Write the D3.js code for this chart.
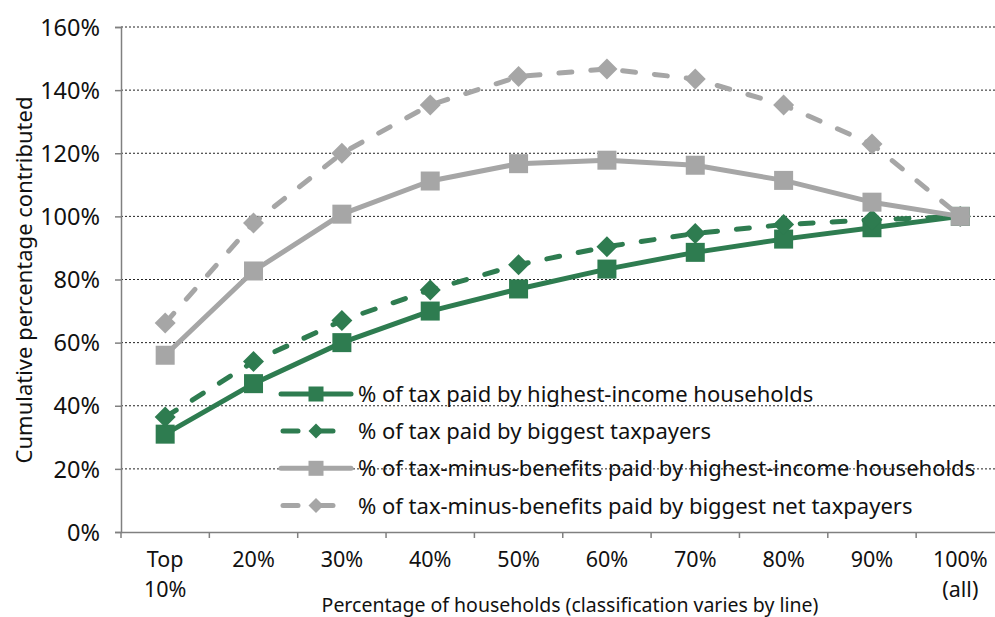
<!DOCTYPE html>
<html><head><meta charset="utf-8">
<script src="https://cdn.jsdelivr.net/npm/d3@7"></script>
<style>
body{margin:0;background:#fff;}
svg text{font-family:"Noto Sans",sans-serif;fill:#111;}
</style></head>
<body><svg id="c" width="995" height="617"></svg>
<script>
const categories = ["Top\n10%","20%","30%","40%","50%","60%","70%","80%","90%","100%\n(all)"];
const taxHighestIncome = [31,47,60,70,77,83.3,88.6,92.8,96.4,100];
const taxBiggestTaxpayers = [36.4,54,67,76.7,84.7,90.4,94.6,97.4,98.9,100];
const netHighestIncome = [56,82.7,100.7,111.2,116.7,117.8,116.2,111.4,104.5,100];
const netBiggestTaxpayers = [66.2,97.9,120,135.3,144.3,146.7,143.5,135.3,122.9,100];
const yTicks = [0,20,40,60,80,100,120,140,160];
const seriesNames = ["% of tax paid by highest-income households","% of tax paid by biggest taxpayers","% of tax-minus-benefits paid by highest-income households","% of tax-minus-benefits paid by biggest net taxpayers"];

const green = "#2e7c50", gray = "#a6a6a6";
const series = [
  {name:seriesNames[0], values:taxHighestIncome, color:green, dash:null, marker:"square"},
  {name:seriesNames[1], values:taxBiggestTaxpayers, color:green, dash:"13,19", marker:"diamond"},
  {name:seriesNames[2], values:netHighestIncome, color:gray, dash:null, marker:"square"},
  {name:seriesNames[3], values:netBiggestTaxpayers, color:gray, dash:"13,19", marker:"diamond"}
];

const svg = d3.select("#c");
const pLeft = 121, pRight = 1004.5, pTop = 27, pBottom = 532;
const x = d3.scaleBand().domain(categories).range([pLeft,pRight]).padding(0);
const y = d3.scaleLinear().domain([0,160]).range([pBottom,pTop]);

// gridlines
svg.append("g").selectAll("line").data(yTicks.filter(d=>d>0)).join("line")
  .attr("x1",pLeft).attr("x2",995).attr("y1",d=>y(d)).attr("y2",d=>y(d))
  .attr("stroke","#222").attr("stroke-width",1).attr("stroke-dasharray","2,2");

// y axis
const yAxis = svg.append("g").attr("transform",`translate(${pLeft},0)`)
  .call(d3.axisLeft(y).tickValues(yTicks).tickFormat(d=>d+"%").tickSize(6).tickPadding(15));
yAxis.select(".domain").attr("stroke","#808080").attr("stroke-width",1.5);
yAxis.selectAll(".tick line").attr("stroke","#808080").attr("stroke-width",1.5);
yAxis.selectAll(".tick text").attr("font-size",23.5).attr("font-family","Noto Sans").attr("fill","#111").attr("dy","0.35em");

// x axis
const xAxis = svg.append("g").attr("transform",`translate(0,${pBottom})`)
  .call(d3.axisBottom(x).tickSize(0).tickFormat(""));
xAxis.select(".domain").attr("stroke","#808080").attr("stroke-width",1.5);
xAxis.selectAll(".tick").remove();
const bounds = categories.map(c=>x(c)).concat([pRight]);
svg.append("g").selectAll("line").data(bounds).join("line")
  .attr("x1",d=>d).attr("x2",d=>d).attr("y1",pBottom).attr("y2",pBottom+6)
  .attr("stroke","#808080").attr("stroke-width",1.5);
const xl = svg.append("g").selectAll("g").data(categories).join("g");
xl.each(function(d){
  const lines = d.split("\n");
  d3.select(this).selectAll("text").data(lines).join("text")
    .attr("x",x(d)+x.bandwidth()/2).attr("y",(l,i)=>567+i*29.8)
    .attr("text-anchor","middle").attr("font-size",21.5).text(l=>l);
});

// axis titles
svg.append("text").attr("x",570).attr("y",612).attr("text-anchor","middle")
  .attr("font-size",19.5).text("Percentage of households (classification varies by line)");
svg.append("text").attr("transform","translate(32,280) rotate(-90)").attr("text-anchor","middle")
  .attr("font-size",22).text("Cumulative percentage contributed");

function drawMarker(g, type, cx, cy, size, color){
  if(type==="square"){
    g.append("rect").attr("x",cx-size/2).attr("y",cy-size/2).attr("width",size).attr("height",size).attr("fill",color);
  } else {
    const h = size/2;
    g.append("path").attr("d",`M${cx},${cy-h}L${cx+h},${cy}L${cx},${cy+h}L${cx-h},${cy}Z`).attr("fill",color);
  }
}

const line = d3.line().x((d,i)=>x(categories[i])+x.bandwidth()/2).y(d=>y(d));
series.forEach(s=>{
  const g = svg.append("g");
  g.append("path").attr("d",line(s.values)).attr("fill","none").attr("stroke",s.color)
    .attr("stroke-width",5).attr("stroke-linecap",s.dash?"round":"butt").attr("stroke-linejoin","round")
    .attr("stroke-dasharray",s.dash);
  s.values.forEach((v,i)=>drawMarker(g,s.marker,x(categories[i])+x.bandwidth()/2,y(v),s.marker==="square"?19:21,s.color));
});

// legend
const legY = [394,431,468.3,505.5];
series.forEach((s,i)=>{
  const g = svg.append("g");
  const ly = legY[i];
  if(s.dash){
    g.append("line").attr("x1",283).attr("x2",298).attr("y1",ly).attr("y2",ly).attr("stroke",s.color).attr("stroke-width",5).attr("stroke-linecap","round");
    g.append("line").attr("x1",316).attr("x2",333).attr("y1",ly).attr("y2",ly).attr("stroke",s.color).attr("stroke-width",5).attr("stroke-linecap","round");
    drawMarker(g,"diamond",316,ly,15,s.color);
  } else {
    g.append("line").attr("x1",281).attr("x2",351).attr("y1",ly).attr("y2",ly).attr("stroke",s.color).attr("stroke-width",5).attr("stroke-linecap","round");
    drawMarker(g,"square",316,ly,15,s.color);
  }
  g.append("text").attr("x",358).attr("y",ly+8).attr("font-size",22).text(s.name);
});
</script></body></html>
